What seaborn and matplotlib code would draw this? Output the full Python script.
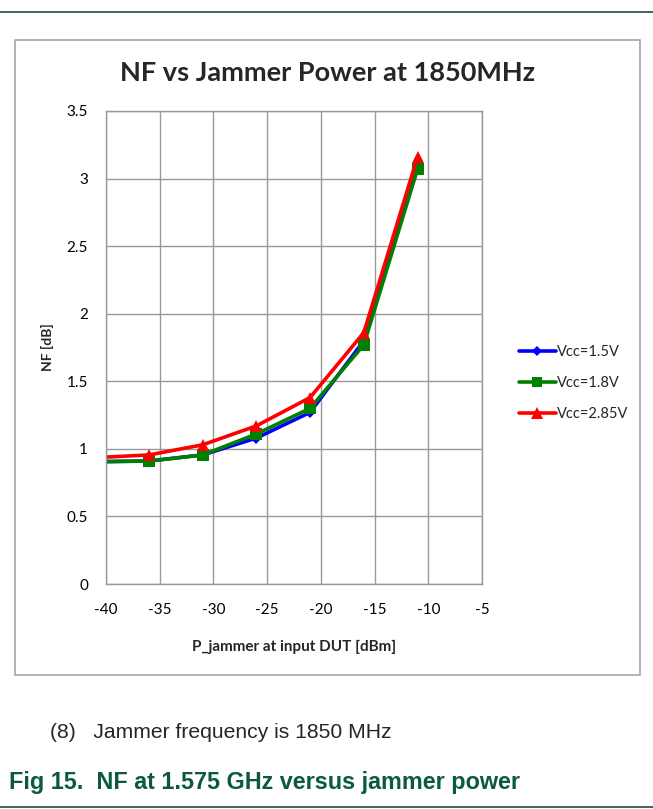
import matplotlib
matplotlib.use("Agg")
import matplotlib.pyplot as plt
import pandas as pd
import seaborn as sns
from matplotlib.lines import Line2D
from matplotlib.patches import Rectangle

# data
p_jammer = [-41, -36, -31, -26, -21, -16, -11]
nf_15v = [0.905, 0.91, 0.955, 1.08, 1.27, 1.80, 3.08]
nf_18v = [0.905, 0.91, 0.955, 1.11, 1.30, 1.77, 3.07]
nf_285v = [0.935, 0.955, 1.03, 1.17, 1.38, 1.86, 3.16]
series_names = ["Vcc=1.5V", "Vcc=1.8V", "Vcc=2.85V"]

df = pd.DataFrame({
    "P": p_jammer * 3,
    "NF": nf_15v + nf_18v + nf_285v,
    "Vcc": [series_names[0]] * 7 + [series_names[1]] * 7 + [series_names[2]] * 7,
})

colors = {"Vcc=1.5V": "#0000ff", "Vcc=1.8V": "#008000", "Vcc=2.85V": "#ff0000"}
marks = {"Vcc=1.5V": "D", "Vcc=1.8V": "s", "Vcc=2.85V": "^"}
msize = {"Vcc=1.5V": 6, "Vcc=1.8V": 8, "Vcc=2.85V": 9}

sns.set_style("white")
plt.rcParams["font.family"] = ["Lato", "DejaVu Sans"]
plt.rcParams["axes.unicode_minus"] = False

fig = plt.figure(figsize=(6.53, 8.09), dpi=100)
ax = fig.add_axes([0.1623, 0.2781, 0.7381 - 0.1623, 0.8628 - 0.2781])

for name in series_names:
    sub = df[df["Vcc"] == name]
    sns.lineplot(data=sub, x="P", y="NF", color=colors[name], marker=marks[name],
                 markersize=msize[name], markeredgewidth=0, linewidth=2.6,
                 ax=ax, legend=False)

ax.set_xlim(-40, -5)
ax.set_ylim(0, 3.5)
ax.set_xticks(range(-40, 0, 5))
ax.set_yticks([0, 0.5, 1, 1.5, 2, 2.5, 3, 3.5])
ax.set_yticklabels(["0", "0.5", "1", "1.5", "2", "2.5", "3", "3.5"])
ax.grid(True, color="#999999", linewidth=1)
ax.set_axisbelow(True)
for s in ax.spines.values():
    s.set_color("#999999")
    s.set_linewidth(1)
ax.tick_params(axis="both", length=0, labelsize=11, colors="#000000")
ax.tick_params(axis="x", pad=14)
ax.tick_params(axis="y", pad=13)
ax.set_xlabel("P_jammer at input DUT [dBm]", fontsize=11, fontweight="bold", labelpad=16)
ax.set_ylabel("NF [dB]", fontsize=10, fontweight="bold", labelpad=9)

# legend
handles = [Line2D([0], [0], color=colors[n], marker=marks[n], markersize=msize[n] - 1,
                  markeredgewidth=0, linewidth=2.6) for n in series_names]
fig.legend(handles, series_names, loc="center left", bbox_to_anchor=(0.775, 1 - 383 / 809),
           frameon=False, fontsize=10.5, handlelength=2.5, handletextpad=0.1,
           labelspacing=1.15)

# title
fig.text(0.5015, 1 - 73 / 809, "NF vs Jammer Power at 1850MHz", ha="center", va="center",
         fontsize=19.5, fontweight="bold")

# chart frame
fig.patches.append(Rectangle((15 / 653, 1 - 675 / 809), 625 / 653, 635 / 809,
                             transform=fig.transFigure, fill=False,
                             edgecolor="#a6a6a6", linewidth=1.2))

# page lines and captions
fig.add_artist(Line2D([0, 1], [1 - 11.7 / 809] * 2, color="#1b4d3e", linewidth=1.2,
                      transform=fig.transFigure))
fig.add_artist(Line2D([0, 1], [1 - 807 / 809] * 2, color="#1b4d3e", linewidth=1.2,
                      transform=fig.transFigure))
fig.text(50 / 653, 1 - 733 / 809, "(8)   Jammer frequency is 1850 MHz", ha="left",
         va="center", fontsize=15.2, family="Liberation Sans")
fig.text(9 / 653, 1 - 782 / 809, "Fig 15.  NF at 1.575 GHz versus jammer power", ha="left",
         va="center", fontsize=16.8, fontweight="bold", family="Liberation Sans",
         color="#0b5a40")

fig.savefig("out.png", dpi=100)
